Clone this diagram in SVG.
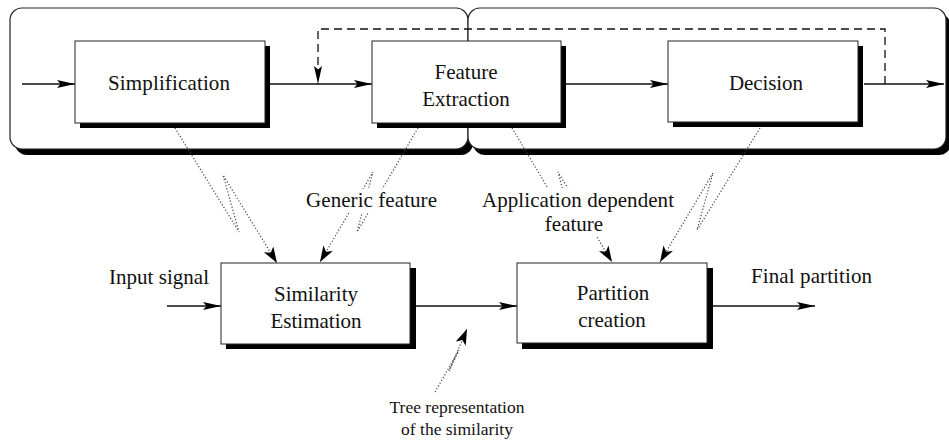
<svg xmlns="http://www.w3.org/2000/svg" width="949" height="443" viewBox="0 0 949 443">
  <style>
    .frame { fill: #fff; stroke: #222; stroke-width: 1.2; }
    .shadow { fill: #000; }
    .box { fill: #fff; stroke: #222; stroke-width: 1; }
    .flow { fill: none; stroke: #111; stroke-width: 1.3; }
    .feedback { fill: none; stroke: #111; stroke-width: 1.3; stroke-dasharray: 8 5; }
    .dotted { fill: none; stroke: #444; stroke-width: 1.2; stroke-dasharray: 1.2 2; }
    .lbl { font-family: "Liberation Serif", "Times New Roman", serif; font-size: 21px; fill: #111; }
    .small { font-family: "Liberation Serif", "Times New Roman", serif; font-size: 17.5px; fill: #111; }
    .mask { fill: #fff; }
  </style>
  <defs>
    <marker id="arrow" markerUnits="userSpaceOnUse" markerWidth="20" markerHeight="10" refX="18" refY="4.5" orient="auto">
      <path d="M0,0.5 L18,4.5 L0,8.5 L3.5,4.5 z" fill="#000"/>
    </marker>
    <marker id="arrowDot" markerUnits="userSpaceOnUse" markerWidth="18" markerHeight="12" refX="16" refY="5.5" orient="auto">
      <path d="M0,0 L16,5.5 L0,11 L4,5.5 z" fill="#000"/>
    </marker>
  </defs>

  <!-- two rounded processing stages side by side -->
  <g id="stage-frames">
    <rect class="shadow" x="15" y="14" width="458" height="141" rx="12"/>
    <rect class="frame" x="10" y="8" width="458" height="141" rx="12"/>
    <rect class="shadow" x="473" y="14" width="478" height="141" rx="12"/>
    <rect class="frame" x="468" y="8" width="478" height="141" rx="12"/>
  </g>

  <!-- connectors -->
  <g id="connectors">
    <path class="flow" d="M22,84 H75" marker-end="url(#arrow)"/>
    <path class="flow" d="M269,84 H372" marker-end="url(#arrow)"/>
    <path class="flow" d="M566,84 H668" marker-end="url(#arrow)"/>
    <path class="flow" d="M864,84 H944" marker-end="url(#arrow)"/>
    <path class="feedback" d="M885,84 V29 H318 V84" marker-end="url(#arrow)"/>

    <path class="flow" d="M167,306 H221" marker-end="url(#arrow)"/>
    <path class="flow" d="M416,306 H517" marker-end="url(#arrow)"/>
    <path class="flow" d="M713,306 H815" marker-end="url(#arrow)"/>

    <path class="dotted" d="M175,128 L239,232 L223,175 L277,263" marker-end="url(#arrowDot)"/>
    <path class="dotted" d="M418,128 L357,232 L373,172 L320,262" marker-end="url(#arrowDot)"/>
    <path class="dotted" d="M512,128 L574,232 L558,172 L612,262" marker-end="url(#arrowDot)"/>
    <path class="dotted" d="M760,128 L697,230 L713,173 L660,262" marker-end="url(#arrowDot)"/>
    <path class="dotted" d="M435,392 L459,350 L449,371 L467,329" marker-end="url(#arrowDot)"/>
  </g>

  <!-- processing blocks -->
  <g id="simplification">
    <rect class="shadow" x="80" y="46" width="190" height="82"/>
    <rect class="box" x="75" y="41" width="190" height="82"/>
    <text class="lbl" x="108" y="90" textLength="122" lengthAdjust="spacing">Simplification</text>
  </g>
  <g id="feature-extraction">
    <rect class="shadow" x="377" y="46" width="189" height="82"/>
    <rect class="box" x="372" y="41" width="189" height="82"/>
    <text class="lbl" text-anchor="middle"><tspan x="466" y="79">Feature</tspan><tspan x="466" y="106">Extraction</tspan></text>
  </g>
  <g id="decision">
    <rect class="shadow" x="673" y="46" width="190" height="81"/>
    <rect class="box" x="668" y="41" width="190" height="81"/>
    <text class="lbl" x="729" y="90" textLength="74" lengthAdjust="spacing">Decision</text>
  </g>
  <g id="similarity-estimation">
    <rect class="shadow" x="226" y="268" width="190" height="81"/>
    <rect class="box" x="221" y="263" width="189" height="81"/>
    <text class="lbl" text-anchor="middle"><tspan x="316" y="301">Similarity</tspan><tspan x="316" y="328">Estimation</tspan></text>
  </g>
  <g id="partition-creation">
    <rect class="shadow" x="522" y="268" width="191" height="81"/>
    <rect class="box" x="517" y="263" width="190" height="80"/>
    <text class="lbl" text-anchor="middle"><tspan x="613" y="300">Partition</tspan><tspan x="612" y="327">creation</tspan></text>
  </g>

  <!-- annotations -->
  <g id="labels">
    <rect class="mask" x="303" y="189" width="137" height="24"/>
    <text class="lbl" x="306" y="207" textLength="131" lengthAdjust="spacing">Generic feature</text>
    <rect class="mask" x="479" y="188" width="198" height="24"/>
    <rect class="mask" x="542" y="212" width="64" height="24"/>
    <text class="lbl" x="482" y="207" textLength="192" lengthAdjust="spacing">Application dependent</text>
    <text class="lbl" x="574" y="231" text-anchor="middle">feature</text>
    <text class="lbl" x="109" y="284" textLength="100" lengthAdjust="spacing">Input signal</text>
    <text class="lbl" x="751" y="283" textLength="121" lengthAdjust="spacing">Final partition</text>
    <text class="small" text-anchor="middle"><tspan x="457" y="413">Tree representation</tspan><tspan x="457" y="435">of the similarity</tspan></text>
  </g>
</svg>
